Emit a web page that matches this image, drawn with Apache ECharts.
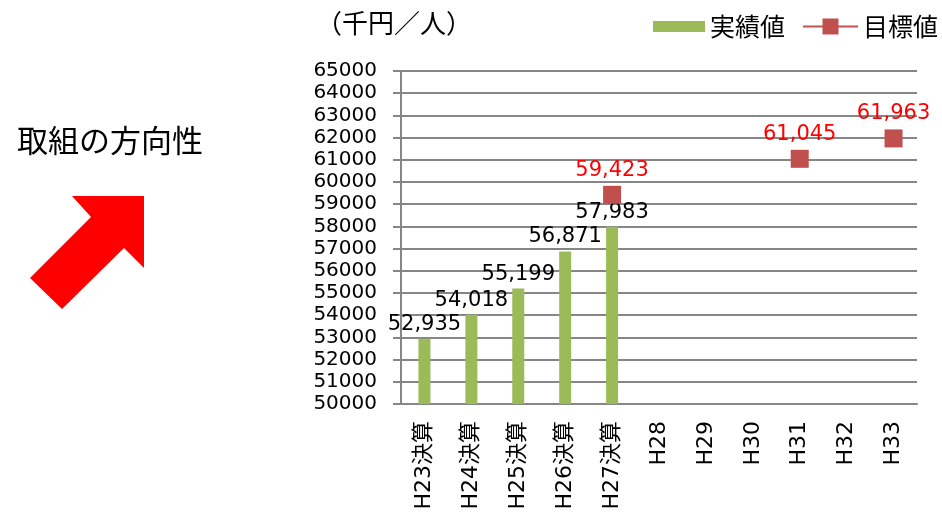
<!DOCTYPE html>
<html><head><meta charset="utf-8">
<script src="https://cdn.jsdelivr.net/npm/echarts@6/dist/echarts.min.js"></script>
<style>html,body{margin:0;padding:0;background:#fff}#c{width:942px;height:521px}</style>
</head><body><div id="c"></div>
<script>
const categories = ['H23決算','H24決算','H25決算','H26決算','H27決算','H28','H29','H30','H31','H32','H33'];
const actualValues = [52935, 54018, 55199, 56871, 57983, null, null, null, null, null, null];
const targetValues = [null, null, null, null, 59423, null, null, null, 61045, null, 61963];
const yTicks = {min: 50000, max: 65000, interval: 1000};
const seriesNames = ['実績値', '目標値'];

const FONT = '"DejaVu Sans", "Noto Sans CJK JP", sans-serif';
const chart = echarts.init(document.getElementById('c'), null, {renderer: 'canvas'});
const fmt = v => Number(v).toLocaleString('en-US');
chart.setOption({
  animation: false,
  textStyle: {fontFamily: FONT},
  title: {text: '（千円／人）', left: 311, top: 5, textStyle: {fontFamily: '"Noto Sans CJK JP"', fontSize: 26, fontWeight: 'normal', color: '#000'}},
  legend: [
    {top: 9, left: 648, itemGap: 8, itemWidth: 52, itemHeight: 11,
     textStyle: {fontFamily: '"Noto Sans CJK JP"', fontSize: 25, color: '#000'},
     data: [{name: seriesNames[0], icon: 'rect'}]},
    {top: 9, left: 797, itemGap: 8, itemWidth: 55, itemHeight: 20,
     textStyle: {fontFamily: '"Noto Sans CJK JP"', fontSize: 25, color: '#000'},
     data: [{name: seriesNames[1]}]}
  ],
  grid: {left: 401, right: 25, top: 71, bottom: 117, containLabel: false},
  xAxis: {
    type: 'category', data: categories,
    axisLine: {lineStyle: {color: '#868686', width: 2}},
    axisTick: {show: false},
    axisLabel: {rotate: 90, fontSize: 22, color: '#000', margin: 17, fontFamily: FONT}
  },
  yAxis: {
    type: 'value', min: yTicks.min, max: yTicks.max, interval: yTicks.interval,
    axisLine: {show: true, lineStyle: {color: '#868686', width: 2}},
    axisTick: {show: true, length: 8, lineStyle: {color: '#868686', width: 2}},
    splitLine: {lineStyle: {color: '#868686', width: 2}},
    axisLabel: {fontSize: 20, color: '#000', margin: 24, fontFamily: FONT, formatter: v => String(v)}
  },
  series: [
    {name: seriesNames[0], type: 'bar', data: actualValues, barWidth: 12,
     itemStyle: {color: '#9BBB59'},
     label: {show: true, position: 'top', distance: 4, fontSize: 21, color: '#000', fontFamily: FONT, formatter: p => fmt(p.value)}},
    {name: seriesNames[1], type: 'line', data: targetValues, connectNulls: false,
     symbol: 'rect', symbolSize: 18, showSymbol: true,
     itemStyle: {color: '#C0504D'}, lineStyle: {color: '#C0504D', width: 4},
     label: {show: true, position: 'top', distance: 5, fontSize: 21, color: '#FF0000', fontFamily: FONT, formatter: p => fmt(p.value)}}
  ],
  graphic: [
    {type: 'text', left: 17, top: 125, style: {text: '取組の方向性', font: '31px "Noto Sans CJK JP"', fill: '#000'}},
    {type: 'polygon', shape: {points: [[72,196],[144,196],[144,268],[124,248],[62,309],[30,278],[91,217]]}, style: {fill: '#FF0000'}}
  ]
});
</script></body></html>
